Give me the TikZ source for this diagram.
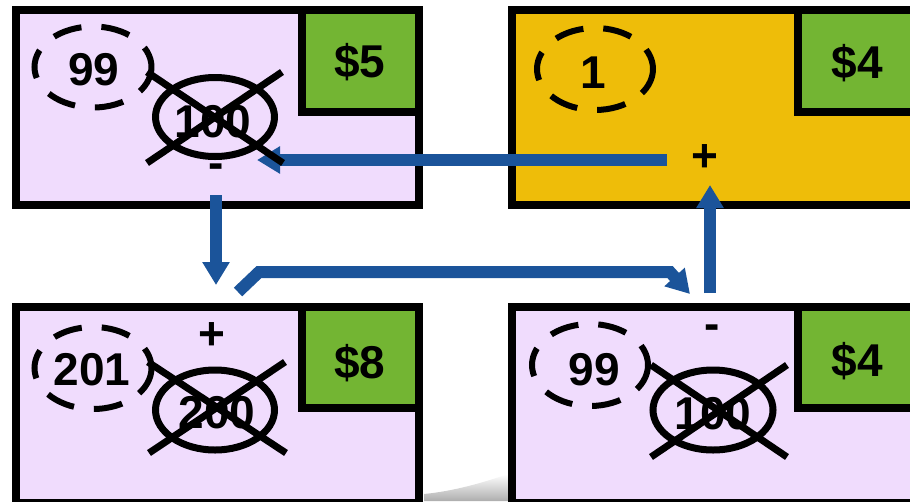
\documentclass[tikz,border=0pt]{standalone}
\usepackage{fontspec}
\setmainfont{Liberation Sans}
\usetikzlibrary{arrows.meta}
\definecolor{lav}{HTML}{F0DCFD}
\definecolor{gold}{HTML}{EEBD09}
\definecolor{grn}{HTML}{73B533}
\definecolor{arr}{HTML}{1B549A}
\tikzset{
  box/.style={draw=black, line width=8pt, rectangle, inner sep=0pt, outer sep=0pt},
  pricebox/.style={box, fill=grn},
  big/.style={font=\bfseries\fontsize{46}{50}\selectfont, inner sep=0pt, anchor=base},
  dashell/.style={draw=black, line width=6pt, dash pattern=on 29pt off 20pt, dash phase=8pt},
  solell/.style={draw=black, line width=7pt},
  crossline/.style={draw=black, line width=7pt},
  flow/.style={draw=arr, line width=12pt, -{Triangle[length=23pt,width=26pt]}}
}
\begin{document}
\begin{tikzpicture}[x=1pt,y=-1pt]
\useasboundingbox (0,0) rectangle (910,501);
\clip (0,0) rectangle (910,501);
% faint shadow between bottom boxes
\shade[top color=white, bottom color=black!32] (424,501) -- (424,494) .. controls (455,491) and (485,482) .. (508,474) -- (508,501) -- cycle;
% boxes
\node[box, fill=lav, minimum width=403pt, minimum height=195pt] (b1) at (217.5,107.5) {};
\node[pricebox, minimum width=117pt, minimum height=102pt] (g1) at (360.5,61) {};
\node[box, fill=gold, minimum width=418pt, minimum height=195pt] (b2) at (721,107.5) {};
\node[pricebox, minimum width=132pt, minimum height=102pt] (g2) at (864,61) {};
\node[box, fill=lav, minimum width=403pt, minimum height=196pt] (b3) at (217.5,405) {};
\node[pricebox, minimum width=117pt, minimum height=101pt] (g3) at (360.5,357.5) {};
\node[box, fill=lav, minimum width=418pt, minimum height=196pt] (b4) at (721,405) {};
\node[pricebox, minimum width=132pt, minimum height=101pt] (g4) at (864,357.5) {};
% price labels
\node[big] (p1) at (360,77) {\$5};
\node[big] (p2) at (857,78) {\$4};
\node[big] (p3) at (360,378) {\$8};
\node[big] (p4) at (857,376) {\$4};
% signs
\node[big] (s1) at (216,178) {-};
\node[big] (s2) at (705,171.5) {+};
\node[big] (s3) at (212,349.5) {+};
\node[big] (s4) at (712,339) {-};
% connector end points
\coordinate (c1a) at (667,160);
\coordinate (c1b) at (257,160);
\coordinate (c2a) at (216,195);
\coordinate (c2b) at (216,285);
\coordinate (c3a) at (238,292);
\coordinate (c3b) at (259,272);
\coordinate (c3c) at (670,272);
\coordinate (c3d) at (690,294);
\coordinate (c4a) at (710,293);
\coordinate (c4b) at (710,185);
\draw[flow] (c1a) -- (c1b);
\draw[flow] (c2a) -- (c2b);
\draw[flow] (c3a) -- (c3b) -- (c3c) -- (c3d);
\draw[flow] (c4a) -- (c4b);
% box 1 contents
\draw[dashell] (93,67) ellipse [x radius=58.5pt, y radius=40.5pt];
\node[big] (n1a) at (94,85) {99};
\draw[solell] (215,117) ellipse [x radius=59.5pt, y radius=39.5pt];
\node[big] (n1b) at (213,137) {100};
\draw[crossline] (147,72) -- (283,163);
\draw[crossline] (282,72) -- (147,163);
% box 2 contents
\draw[dashell] (595,69) ellipse [x radius=58pt, y radius=41pt];
\node[big] (n2a) at (593,88) {1};
% box 3 contents
\draw[dashell] (93,368) ellipse [x radius=58.5pt, y radius=41pt];
\node[big] (n3a) at (92,385) {201};
\draw[solell] (215,410) ellipse [x radius=59.5pt, y radius=40pt];
\node[big] (n3b) at (217,428) {200};
\draw[crossline] (148,362) -- (286,453);
\draw[crossline] (285,362) -- (149,453);
% box 4 contents
\draw[dashell] (590,365) ellipse [x radius=58pt, y radius=41pt];
\node[big] (n4a) at (594,385) {99};
\draw[solell] (713,410) ellipse [x radius=60pt, y radius=40pt];
\node[big] (n4b) at (713,429) {100};
\draw[crossline] (651,365) -- (787,457);
\draw[crossline] (787,365) -- (651,457);
\end{tikzpicture}
\end{document}
